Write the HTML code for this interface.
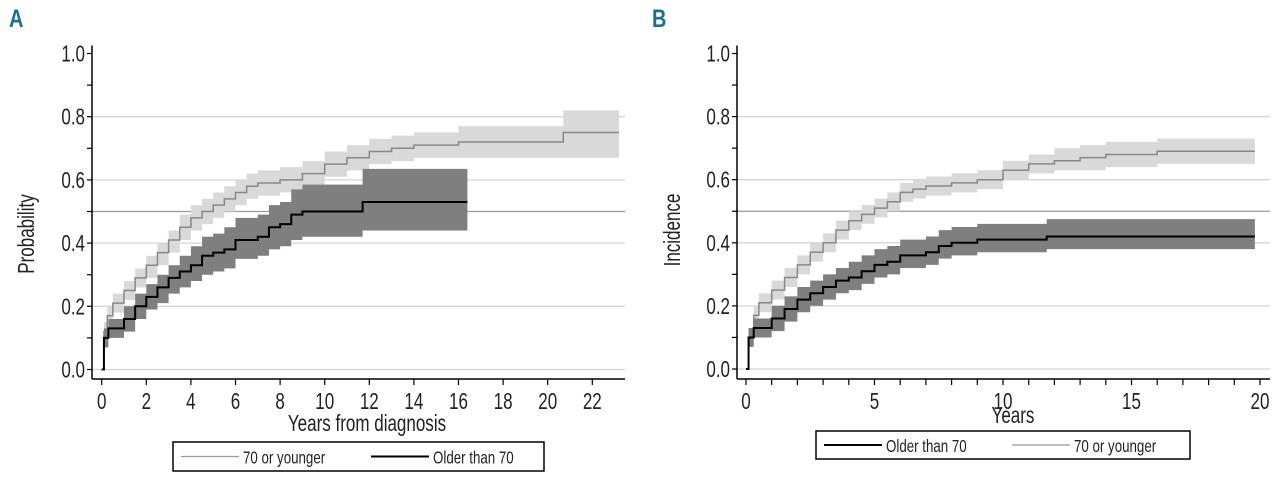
<!DOCTYPE html>
<html><head><meta charset="utf-8"><style>
body{margin:0;background:#fff;width:1280px;height:482px;overflow:hidden}
svg{display:block;font-family:"Liberation Sans",sans-serif}
</style></head><body>
<svg id="chart" width="1280" height="482" viewBox="0 0 1280 482"></svg>
<script>
// Panel A data
const aYoungT=[0,0.1,0.25,0.5,1,1.5,2,2.5,3,3.5,4,4.5,5,5.5,6,6.5,7,8,9,10,11,12,13,14,16,20.7,23.2];
const aYoungEst=[0,0.12,0.17,0.21,0.25,0.29,0.33,0.37,0.41,0.45,0.48,0.50,0.52,0.54,0.56,0.58,0.59,0.60,0.62,0.65,0.67,0.69,0.70,0.71,0.72,0.75,0.75];
const aYoungLo=[0,0.09,0.14,0.18,0.22,0.26,0.29,0.33,0.37,0.41,0.44,0.46,0.48,0.50,0.52,0.54,0.55,0.56,0.58,0.61,0.63,0.65,0.66,0.67,0.67,0.67,0.67];
const aYoungHi=[0,0.15,0.20,0.24,0.28,0.32,0.36,0.40,0.44,0.49,0.52,0.54,0.56,0.58,0.60,0.62,0.63,0.64,0.66,0.69,0.71,0.73,0.74,0.75,0.77,0.82,0.82];
const aOldT=[0,0.1,0.3,1,1.5,2,2.5,3,3.5,4,4.5,5,5.5,6,7,7.5,8,8.5,9,11.7,16.4];
const aOldEst=[0,0.10,0.13,0.16,0.20,0.23,0.26,0.29,0.31,0.33,0.36,0.37,0.38,0.41,0.42,0.45,0.46,0.49,0.50,0.53,0.53];
const aOldLo=[0,0.07,0.10,0.12,0.16,0.19,0.21,0.24,0.26,0.28,0.30,0.31,0.32,0.35,0.36,0.38,0.39,0.41,0.42,0.44,0.44];
const aOldHi=[0,0.13,0.16,0.20,0.24,0.27,0.30,0.33,0.36,0.39,0.42,0.43,0.45,0.48,0.49,0.52,0.53,0.57,0.585,0.635,0.635];
// Panel B data
const bYoungT=[0,0.1,0.3,0.5,1,1.5,2,2.5,3,3.5,4,4.5,5,5.5,6,6.5,7,8,9,10,11,12,13,14,16,19.8];
const bYoungEst=[0,0.10,0.17,0.21,0.25,0.29,0.33,0.37,0.40,0.44,0.47,0.49,0.51,0.53,0.56,0.57,0.58,0.59,0.60,0.63,0.65,0.66,0.67,0.68,0.69,0.69];
const bYoungLo=[0,0.07,0.14,0.18,0.22,0.26,0.30,0.34,0.37,0.41,0.44,0.46,0.48,0.50,0.53,0.54,0.55,0.56,0.57,0.60,0.62,0.63,0.63,0.64,0.65,0.65];
const bYoungHi=[0,0.13,0.20,0.24,0.28,0.32,0.36,0.40,0.43,0.47,0.50,0.52,0.54,0.56,0.59,0.60,0.61,0.62,0.63,0.66,0.68,0.70,0.71,0.72,0.73,0.73];
const bOldT=[0,0.1,0.3,1,1.5,2,2.5,3,3.5,4,4.5,5,5.5,6,7,7.5,8,9,11.7,19.8];
const bOldEst=[0,0.10,0.13,0.16,0.19,0.22,0.24,0.26,0.28,0.29,0.31,0.33,0.34,0.36,0.37,0.39,0.40,0.41,0.42,0.42];
const bOldLo=[0,0.07,0.10,0.12,0.15,0.18,0.20,0.22,0.24,0.25,0.27,0.29,0.30,0.32,0.33,0.35,0.36,0.37,0.38,0.38];
const bOldHi=[0,0.13,0.16,0.20,0.23,0.26,0.28,0.30,0.32,0.34,0.36,0.38,0.39,0.41,0.42,0.44,0.45,0.46,0.475,0.475];
const aXTicks=[0,2,4,6,8,10,12,14,16,18,20,22];
const bXTicks=[0,5,10,15,20];
const yTicks=[0,0.2,0.4,0.6,0.8,1.0];

const NS="http://www.w3.org/2000/svg";
const svg=document.getElementById('chart');
const SQ=0.74;
function el(tag,attrs,parent,text){const e=document.createElementNS(NS,tag);for(const k in attrs)e.setAttribute(k,attrs[k]);if(text!==undefined)e.textContent=text;(parent||svg).appendChild(e);return e;}
function txt(x,y,s,size,anchor,parent,rot){
  const tr=rot?`translate(${x},${y}) rotate(-90) scale(${SQ},1)`:`translate(${x},${y}) scale(${SQ},1)`;
  return el('text',{x:0,y:0,transform:tr,'text-anchor':anchor,'font-size':size,fill:'#222'},parent,s);
}

function panel(cfg){
  const g=el('g',{});
  
  
  const sx=v=>cfg.x0+v*cfg.xs, sy=v=>cfg.y0-v*cfg.ys;
  [0,0.2,0.4,0.6,0.8].forEach(v=>{const l=el('line',{x1:cfg.axX,x2:cfg.axR,y1:sy(v),y2:sy(v),stroke:'#d4d4d4','stroke-width':1.3},g);
    });
  const ref=el('line',{x1:cfg.axX,x2:cfg.axR,y1:sy(0.5),y2:sy(0.5),stroke:'#9a9a9a','stroke-width':1.2},g);
  
  function stepPts(T,V){let p=[];for(let i=0;i<T.length;i++){if(i>0)p.push([sx(T[i]),sy(V[i-1])]);p.push([sx(T[i]),sy(V[i])]);}return p;}
  function series(T,E,L,H,band,line,lw,nm){
    const up=stepPts(T,H), lo=stepPts(T,L).reverse();
    const b=el('polygon',{points:up.concat(lo).map(p=>p.join(',')).join(' '),fill:band},g);
    
    const l=el('polyline',{points:stepPts(T,E).map(p=>p.join(',')).join(' '),fill:'none',stroke:line,'stroke-width':lw},g);
    
  }
  cfg.series.forEach(s=>series(...s));
  const ya=el('line',{x1:cfg.axX,x2:cfg.axX,y1:cfg.y0-cfg.ys-8,y2:cfg.axY,stroke:'#000','stroke-width':1.5},g);
  
  const xa=el('line',{x1:cfg.axX,x2:cfg.axR,y1:cfg.axY,y2:cfg.axY,stroke:'#000','stroke-width':1.5},g);
  
  for(let v=0;v<=1.0001;v+=0.1){el('line',{x1:cfg.axX-5,x2:cfg.axX,y1:sy(v),y2:sy(v),stroke:'#000','stroke-width':1.2},g);}
  yTicks.forEach(v=>{const t=txt(cfg.axX-7,sy(v)+8,v.toFixed(1),23,'end',g);
    });
  for(let v=0;v<=cfg.xmax;v+=cfg.minor){el('line',{x1:sx(v),x2:sx(v),y1:cfg.axY,y2:cfg.axY+6,stroke:'#000','stroke-width':1.2},g);}
  cfg.xticks.forEach(v=>{const t=txt(sx(v),cfg.axY+30,String(v),23,'middle',g);
    });
  const xt=txt(cfg.xtX,cfg.xtY,cfg.xtitle,23,'middle',g);
  
  const yt=txt(cfg.ytX,cfg.ytY,cfg.ytitle,23,'middle',g,true);
  
  const lg=el('g',{},g);
  el('rect',{x:cfg.lg[0],y:cfg.lg[1],width:cfg.lg[2],height:cfg.lg[3],fill:'#fff',stroke:'#000','stroke-width':1.5},lg);
  cfg.leg.forEach(e=>{
    const en=el('g',{},lg);
    el('line',{x1:e[0],x2:e[0]+58,y1:cfg.lg[1]+cfg.lg[3]/2,y2:cfg.lg[1]+cfg.lg[3]/2,stroke:e[2],'stroke-width':e[3]},en);
    txt(e[0]+62,cfg.lg[1]+cfg.lg[3]/2+7,e[1],18,'start',en);
  });
  const pl=el('text',{x:0,y:0,transform:`translate(${cfg.pl[0]},${cfg.pl[1]}) scale(0.8,1)`,'font-size':25,'font-weight':'bold',fill:'#1d6f8f'},g,cfg.plabel);
  
}

panel({name:'panel-a',plabel:'A',pl:[9,27],x0:101.7,xs:22.3,y0:369.5,ys:316,axX:92,axR:625,axY:379,xmax:22,minor:2,
  xticks:aXTicks,xtitle:'Years from diagnosis',xtX:367,xtY:431,ytitle:'Probability',ytX:34,ytY:234,
  lg:[173,442,371,29],leg:[[181,'70 or younger','#999',1.3],[371,'Older than 70','#000',2]],
  series:[[aYoungT,aYoungEst,aYoungLo,aYoungHi,'#d9d9d9','#888',1.5,'young'],[aOldT,aOldEst,aOldLo,aOldHi,'#7f7f7f','#000',2,'older']]});
panel({name:'panel-b',plabel:'B',pl:[652,27],x0:746,xs:25.7,y0:369,ys:315.5,axX:737,axR:1270,axY:379,xmax:20,minor:1,
  xticks:bXTicks,xtitle:'Years',xtX:1013,xtY:423,ytitle:'Incidence',ytX:680,ytY:230,
  lg:[816,431,374,28],leg:[[824,'Older than 70','#000',2],[1012,'70 or younger','#999',1.3]],
  series:[[bYoungT,bYoungEst,bYoungLo,bYoungHi,'#d9d9d9','#888',1.5,'young'],[bOldT,bOldEst,bOldLo,bOldHi,'#7f7f7f','#000',2,'older']]});
</script>
</body></html>
